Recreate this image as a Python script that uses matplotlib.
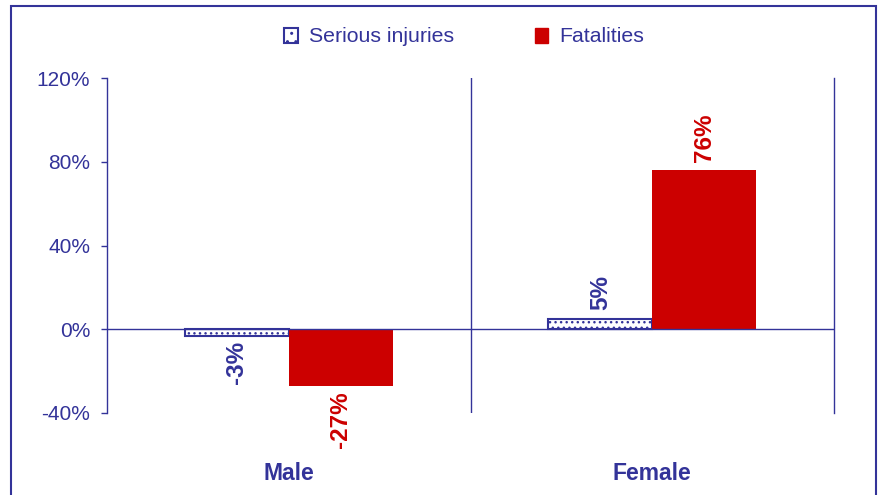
import matplotlib.pyplot as plt
from matplotlib.patches import Patch, Rectangle
import numpy as np

plt.rcParams['font.family'] = ['Liberation Sans', 'DejaVu Sans']
plt.rcParams['hatch.linewidth'] = 1.0

NAVY = '#333399'
RED = '#CC0000'

categories = ['Male', 'Female']
serious = [-3, 5]
fatalities = [-27, 76]
series_names = ['Serious injuries', 'Fatalities']
y_ticks = [-40, 0, 40, 80, 120]

fig = plt.figure(figsize=(8.83, 4.95), dpi=100)
W, H = 883, 495
ax = fig.add_axes([107 / W, 1 - 413 / H, (834 - 107) / W, (413 - 78) / H])

# outer frame like the original chart border
fig.patches.append(Rectangle((11 / W, -0.1), (876 - 11) / W, 1.1 - 6 / H,
                             transform=fig.transFigure, fill=False,
                             edgecolor=NAVY, linewidth=1.5, zorder=0))

x = np.arange(len(categories))
bw = 0.286
b1 = ax.bar(x - bw / 2, serious, bw, facecolor='white', edgecolor=NAVY,
            hatch='...', linewidth=1.5, zorder=3)
b2 = ax.bar(x + bw / 2, fatalities, bw, color=RED, linewidth=0, zorder=3)

# data labels, rotated
for bars, vals, col in [(b1, serious, NAVY), (b2, fatalities, RED)]:
    for rect, v in zip(bars, vals):
        cx = rect.get_x() + rect.get_width() / 2
        if v >= 0:
            ax.annotate(f'{v}%', (cx, v), xytext=(0, 6), textcoords='offset points',
                        rotation=90, ha='center', va='bottom', fontsize=17.5,
                        fontweight='bold', color=col)
        else:
            ax.annotate(f'{v}%', (cx, v), xytext=(0, -4), textcoords='offset points',
                        rotation=90, ha='center', va='top', fontsize=17.5,
                        fontweight='bold', color=col)

ax.set_xlim(-0.5, 1.5)
ax.set_ylim(-40, 120)
ax.set_yticks(y_ticks)
ax.set_yticklabels([f'{t}%' for t in y_ticks])
ax.tick_params(axis='y', direction='out', length=4, width=1, color=NAVY,
               labelcolor=NAVY, labelsize=15, pad=8)
ax.set_xticks(x)
ax.set_xticklabels(categories, fontsize=16.5, fontweight='bold', color=NAVY)
ax.tick_params(axis='x', length=0, pad=35)

ax.axhline(0, color=NAVY, linewidth=1, zorder=4)
ax.axvline(0.5, color=NAVY, linewidth=1, zorder=2)

for s in ['top', 'bottom']:
    ax.spines[s].set_visible(False)
for s in ['left', 'right']:
    ax.spines[s].set_color(NAVY)
    ax.spines[s].set_linewidth(1)

handles = [Patch(facecolor='white', edgecolor=NAVY, hatch='..', linewidth=1.5),
           Patch(facecolor=RED, edgecolor=RED)]
leg = fig.legend(handles, series_names, loc='center', bbox_to_anchor=(464 / W, 1 - 37 / H),
                 ncol=2, frameon=False, fontsize=15.3, handlelength=0.65, handleheight=0.7,
                 handletextpad=0.5, columnspacing=3.8)
for t in leg.get_texts():
    t.set_color(NAVY)

fig.savefig('out.png', dpi=100)
